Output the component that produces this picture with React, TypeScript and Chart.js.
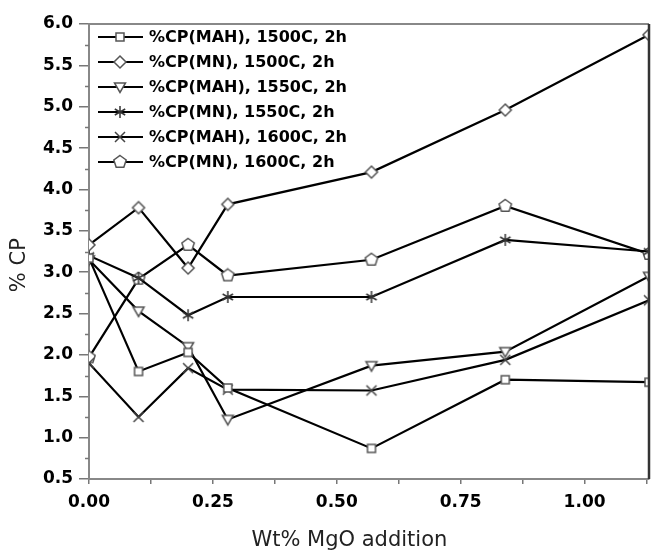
import React, { useEffect, useRef } from 'react';
import { Chart, registerables } from 'chart.js';

Chart.register(...registerables);

// ---- data ----
const xValues = [0, 0.1, 0.2, 0.28, 0.57, 0.84, 1.13];
const seriesLabels = [
  '%CP(MAH), 1500C, 2h',
  '%CP(MN), 1500C, 2h',
  '%CP(MAH), 1550C, 2h',
  '%CP(MN), 1550C, 2h',
  '%CP(MAH), 1600C, 2h',
  '%CP(MN), 1600C, 2h',
];
const mah1500 = [3.17, 1.8, 2.03, 1.6, 0.87, 1.7, 1.67];
const mn1500 = [3.33, 3.78, 3.05, 3.82, 4.21, 4.96, 5.87];
const mah1550 = [3.15, 2.53, 2.1, 1.22, 1.87, 2.04, 2.95];
const mn1550 = [3.2, 2.93, 2.48, 2.7, 2.7, 3.39, 3.25];
const mah1600 = [1.9, 1.25, 1.84, 1.58, 1.57, 1.94, 2.66];
const mn1600 = [1.97, 2.92, 3.33, 2.96, 3.15, 3.8, 3.22];
const seriesValues = [mah1500, mn1500, mah1550, mn1550, mah1600, mn1600];
const markerKinds = ['square', 'diamond', 'invTriangle', 'asterisk', 'cross', 'pentagon'];

const xTickValues = [0, 0.25, 0.5, 0.75, 1.0];
const xTickLabels = ['0.00', '0.25', '0.50', '0.75', '1.00'];

const xTitle = 'Wt% MgO addition';
const yTitle = '% CP';
const xMin = 0;
const xMax = 1.13;
const yMin = 0.5;
const yMax = 6.0;

function drawMarker(ctx: CanvasRenderingContext2D, kind: string, x: number, y: number) {
  ctx.save();
  ctx.lineWidth = 1.5;
  ctx.strokeStyle = '#555';
  ctx.fillStyle = '#fff';
  ctx.beginPath();
  if (kind === 'square') {
    ctx.rect(x - 4, y - 4, 8, 8);
    ctx.fill();
    ctx.stroke();
  } else if (kind === 'diamond') {
    ctx.moveTo(x, y - 6);
    ctx.lineTo(x + 6, y);
    ctx.lineTo(x, y + 6);
    ctx.lineTo(x - 6, y);
    ctx.closePath();
    ctx.fill();
    ctx.stroke();
  } else if (kind === 'invTriangle') {
    ctx.moveTo(x - 5.5, y - 4);
    ctx.lineTo(x + 5.5, y - 4);
    ctx.lineTo(x, y + 5.5);
    ctx.closePath();
    ctx.fill();
    ctx.stroke();
  } else if (kind === 'asterisk') {
    ctx.strokeStyle = '#333';
    ctx.moveTo(x, y - 6);
    ctx.lineTo(x, y + 6);
    ctx.moveTo(x - 5.2, y - 3);
    ctx.lineTo(x + 5.2, y + 3);
    ctx.moveTo(x - 5.2, y + 3);
    ctx.lineTo(x + 5.2, y - 3);
    ctx.stroke();
  } else if (kind === 'cross') {
    ctx.strokeStyle = '#444';
    ctx.moveTo(x - 5, y - 5);
    ctx.lineTo(x + 5, y + 5);
    ctx.moveTo(x - 5, y + 5);
    ctx.lineTo(x + 5, y - 5);
    ctx.stroke();
  } else if (kind === 'pentagon') {
    const r = 6.5;
    for (let i = 0; i < 5; i++) {
      const a = -Math.PI / 2 + (i * 2 * Math.PI) / 5;
      const px = x + r * Math.cos(a);
      const py = y + r * Math.sin(a);
      if (i === 0) ctx.moveTo(px, py);
      else ctx.lineTo(px, py);
    }
    ctx.closePath();
    ctx.fill();
    ctx.stroke();
  }
  ctx.restore();
}

function makeMarkerCanvas(kind: string): HTMLCanvasElement {
  const c = document.createElement('canvas');
  c.width = 16;
  c.height = 16;
  const ctx = c.getContext('2d')!;
  drawMarker(ctx, kind, 8, 8);
  return c;
}

const decorPlugin = {
  id: 'decor',
  afterDraw(chart: any) {
    const ctx: CanvasRenderingContext2D = chart.ctx;
    const { left, right, top, bottom } = chart.chartArea;
    const yScale = chart.scales.y;
    const xScale = chart.scales.x;
    ctx.save();
    // frame top and right
    ctx.strokeStyle = '#888';
    ctx.lineWidth = 2;
    ctx.beginPath();
    ctx.moveTo(left, top);
    ctx.lineTo(right, top);
    ctx.stroke();
    ctx.strokeStyle = '#333';
    ctx.lineWidth = 2.5;
    ctx.beginPath();
    ctx.moveTo(right, top);
    ctx.lineTo(right, bottom);
    ctx.stroke();
    // y minor ticks
    ctx.strokeStyle = '#777';
    ctx.lineWidth = 1.5;
    for (let v = yMin + 0.25; v < yMax; v += 0.5) {
      const py = Math.round(yScale.getPixelForValue(v)) + 0.5;
      ctx.beginPath();
      ctx.moveTo(left - 4, py);
      ctx.lineTo(left, py);
      ctx.stroke();
    }
    // x tick labels
    ctx.fillStyle = '#000';
    ctx.font = 'bold 17px "DejaVu Sans"';
    ctx.textAlign = 'center';
    ctx.textBaseline = 'middle';
    xTickValues.forEach((v, i) => {
      ctx.fillText(xTickLabels[i], xScale.getPixelForValue(v), bottom + 24);
    });
    // axis titles
    ctx.fillStyle = '#222';
    ctx.font = '21px "DejaVu Sans"';
    ctx.textAlign = 'center';
    ctx.textBaseline = 'middle';
    ctx.fillText(xTitle, left + (right - left) * 0.465, 541);
    ctx.save();
    ctx.translate(20, top + (bottom - top) * 0.53);
    ctx.rotate(-Math.PI / 2);
    ctx.fillText(yTitle, 0, 0);
    ctx.restore();
    // legend
    ctx.font = 'bold 16px "DejaVu Sans"';
    ctx.textAlign = 'left';
    ctx.textBaseline = 'middle';
    for (let i = 0; i < seriesLabels.length; i++) {
      const ry = top + 13 + 25 * i;
      ctx.strokeStyle = '#000';
      ctx.lineWidth = 2;
      ctx.beginPath();
      ctx.moveTo(left + 9, ry);
      ctx.lineTo(left + 54, ry);
      ctx.stroke();
      drawMarker(ctx, markerKinds[i], left + 31, ry);
      ctx.fillStyle = '#000';
      ctx.fillText(seriesLabels[i], left + 60, ry + 1);
    }
    ctx.restore();
  },
};

export default function App() {
  const ref = useRef<HTMLCanvasElement>(null);
  useEffect(() => {
    document.body.style.margin = '0';
    const canvas = ref.current!;
    const markers = markerKinds.map(makeMarkerCanvas);
    const datasets = seriesValues.map((vals, i) => ({
      label: seriesLabels[i],
      data: xValues.map((x, j) => ({ x, y: vals[j] })),
      borderColor: '#000',
      borderWidth: 2.2,
      backgroundColor: '#fff',
      pointStyle: markers[i] as any,
      pointRadius: 6,
      tension: 0,
      fill: false,
    }));
    const chart = new Chart(canvas, {
      type: 'line',
      data: { datasets },
      options: {
        responsive: false,
        animation: false,
        layout: { autoPadding: false, padding: { top: 24, right: 3, left: 0, bottom: 0 } },
        plugins: { legend: { display: false }, tooltip: { enabled: false }, title: { display: false } },
        scales: {
          x: {
            type: 'linear',
            min: xMin,
            max: xMax,
            afterFit: (s: any) => { s.height = 75; },
            border: { display: true, color: '#888', width: 2 },
            grid: { drawOnChartArea: false, drawTicks: true, tickLength: 5, color: '#777', lineWidth: 1.5 },
            ticks: {
              stepSize: 0.125,
              includeBounds: false,
              autoSkip: false,
              display: false,
            },
          },
          y: {
            type: 'linear',
            min: yMin,
            max: yMax,
            afterFit: (s: any) => { s.width = 89; },
            border: { display: true, color: '#888', width: 2 },
            grid: { drawOnChartArea: false, drawTicks: true, tickLength: 10, color: '#777', lineWidth: 1.5 },
            ticks: {
              stepSize: 0.5,
              padding: 6,
              color: '#000',
              font: { family: '"DejaVu Sans"', weight: 'bold', size: 17 },
              callback: (v: any) => Number(v).toFixed(1),
            },
          },
        },
      },
      plugins: [decorPlugin],
    });
    return () => chart.destroy();
  }, []);
  return (
    <div style={{ width: 652, height: 554, background: '#fff' }}>
      <canvas ref={ref} width={652} height={554} style={{ display: 'block' }} />
    </div>
  );
}
